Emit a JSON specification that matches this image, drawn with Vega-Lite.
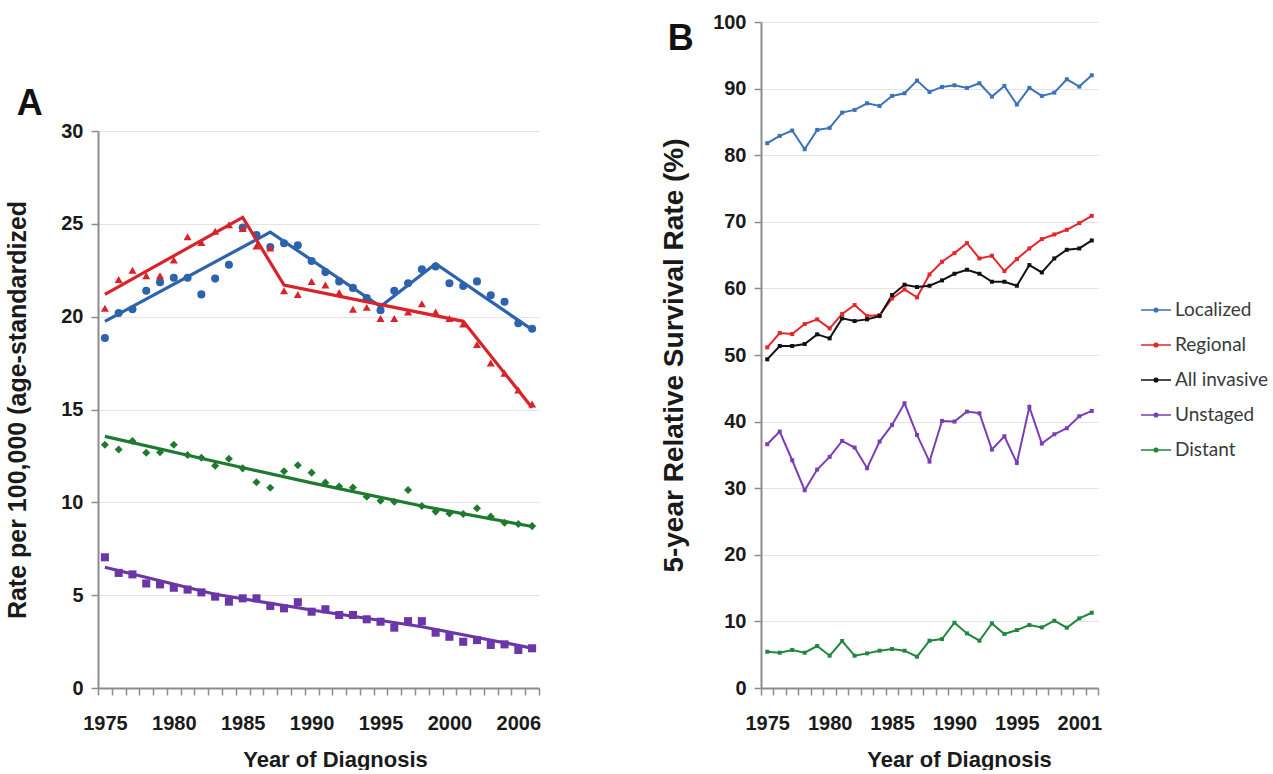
{
 "$schema": "https://vega.github.io/schema/vega-lite/v6.json",
 "background": "white",
 "padding": {"left": 5, "top": 12, "right": 0, "bottom": 0},
 "bounds": "flush",
 "spacing": 222,
 "config": {
  "view": {"stroke": null},
  "font": "Liberation Sans",
  "axis": {
   "labelFont": "Liberation Sans", "labelFontWeight": "bold", "labelFontSize": 20, "labelColor": "#1a1a1a",
   "titleFont": "Liberation Sans", "titleFontWeight": "bold", "titleFontSize": 22, "titleColor": "#1a1a1a",
   "domainColor": "#8c8c8c", "domainWidth": 2, "tickColor": "#8c8c8c", "tickWidth": 1.5, "tickSize": 7,
   "gridColor": "#e4e4e4", "gridWidth": 1.2
  },
  "title": {"font": "Liberation Sans", "fontWeight": "bold", "fontSize": 36, "color": "#111"}
 },
 "datasets": {
  "incid": [
   {"stage":"Localized","year":1975,"rate":18.85},{"stage":"Localized","year":1976,"rate":20.2},{"stage":"Localized","year":1977,"rate":20.4},{"stage":"Localized","year":1978,"rate":21.4},{"stage":"Localized","year":1979,"rate":21.85},{"stage":"Localized","year":1980,"rate":22.1},{"stage":"Localized","year":1981,"rate":22.1},{"stage":"Localized","year":1982,"rate":21.2},{"stage":"Localized","year":1983,"rate":22.05},{"stage":"Localized","year":1984,"rate":22.8},{"stage":"Localized","year":1985,"rate":24.8},{"stage":"Localized","year":1986,"rate":24.4},{"stage":"Localized","year":1987,"rate":23.75},{"stage":"Localized","year":1988,"rate":23.95},{"stage":"Localized","year":1989,"rate":23.85},{"stage":"Localized","year":1990,"rate":23.0},{"stage":"Localized","year":1991,"rate":22.4},{"stage":"Localized","year":1992,"rate":21.9},{"stage":"Localized","year":1993,"rate":21.55},{"stage":"Localized","year":1994,"rate":21.0},{"stage":"Localized","year":1995,"rate":20.35},{"stage":"Localized","year":1996,"rate":21.4},{"stage":"Localized","year":1997,"rate":21.8},{"stage":"Localized","year":1998,"rate":22.55},{"stage":"Localized","year":1999,"rate":22.7},{"stage":"Localized","year":2000,"rate":21.8},{"stage":"Localized","year":2001,"rate":21.65},{"stage":"Localized","year":2002,"rate":21.9},{"stage":"Localized","year":2003,"rate":21.15},{"stage":"Localized","year":2004,"rate":20.8},{"stage":"Localized","year":2005,"rate":19.65},{"stage":"Localized","year":2006,"rate":19.35},
   {"stage":"Regional","year":1975,"rate":20.45},{"stage":"Regional","year":1976,"rate":22.0},{"stage":"Regional","year":1977,"rate":22.5},{"stage":"Regional","year":1978,"rate":22.2},{"stage":"Regional","year":1979,"rate":22.2},{"stage":"Regional","year":1980,"rate":23.05},{"stage":"Regional","year":1981,"rate":24.3},{"stage":"Regional","year":1982,"rate":24.0},{"stage":"Regional","year":1983,"rate":24.6},{"stage":"Regional","year":1984,"rate":24.95},{"stage":"Regional","year":1985,"rate":24.75},{"stage":"Regional","year":1986,"rate":23.8},{"stage":"Regional","year":1987,"rate":23.7},{"stage":"Regional","year":1988,"rate":21.4},{"stage":"Regional","year":1989,"rate":21.2},{"stage":"Regional","year":1990,"rate":21.9},{"stage":"Regional","year":1991,"rate":21.7},{"stage":"Regional","year":1992,"rate":21.3},{"stage":"Regional","year":1993,"rate":20.4},{"stage":"Regional","year":1994,"rate":20.5},{"stage":"Regional","year":1995,"rate":19.9},{"stage":"Regional","year":1996,"rate":19.9},{"stage":"Regional","year":1997,"rate":20.25},{"stage":"Regional","year":1998,"rate":20.7},{"stage":"Regional","year":1999,"rate":20.25},{"stage":"Regional","year":2000,"rate":19.9},{"stage":"Regional","year":2001,"rate":19.6},{"stage":"Regional","year":2002,"rate":18.5},{"stage":"Regional","year":2003,"rate":17.5},{"stage":"Regional","year":2004,"rate":16.95},{"stage":"Regional","year":2005,"rate":16.05},{"stage":"Regional","year":2006,"rate":15.3},
   {"stage":"Distant","year":1975,"rate":13.1},{"stage":"Distant","year":1976,"rate":12.85},{"stage":"Distant","year":1977,"rate":13.3},{"stage":"Distant","year":1978,"rate":12.67},{"stage":"Distant","year":1979,"rate":12.7},{"stage":"Distant","year":1980,"rate":13.1},{"stage":"Distant","year":1981,"rate":12.55},{"stage":"Distant","year":1982,"rate":12.4},{"stage":"Distant","year":1983,"rate":11.97},{"stage":"Distant","year":1984,"rate":12.35},{"stage":"Distant","year":1985,"rate":11.83},{"stage":"Distant","year":1986,"rate":11.08},{"stage":"Distant","year":1987,"rate":10.79},{"stage":"Distant","year":1988,"rate":11.67},{"stage":"Distant","year":1989,"rate":12.0},{"stage":"Distant","year":1990,"rate":11.6},{"stage":"Distant","year":1991,"rate":11.06},{"stage":"Distant","year":1992,"rate":10.85},{"stage":"Distant","year":1993,"rate":10.8},{"stage":"Distant","year":1994,"rate":10.3},{"stage":"Distant","year":1995,"rate":10.09},{"stage":"Distant","year":1996,"rate":10.03},{"stage":"Distant","year":1997,"rate":10.66},{"stage":"Distant","year":1998,"rate":9.8},{"stage":"Distant","year":1999,"rate":9.5},{"stage":"Distant","year":2000,"rate":9.4},{"stage":"Distant","year":2001,"rate":9.37},{"stage":"Distant","year":2002,"rate":9.68},{"stage":"Distant","year":2003,"rate":9.23},{"stage":"Distant","year":2004,"rate":8.9},{"stage":"Distant","year":2005,"rate":8.83},{"stage":"Distant","year":2006,"rate":8.72},
   {"stage":"Unstaged","year":1975,"rate":7.04},{"stage":"Unstaged","year":1976,"rate":6.2},{"stage":"Unstaged","year":1977,"rate":6.12},{"stage":"Unstaged","year":1978,"rate":5.63},{"stage":"Unstaged","year":1979,"rate":5.58},{"stage":"Unstaged","year":1980,"rate":5.4},{"stage":"Unstaged","year":1981,"rate":5.3},{"stage":"Unstaged","year":1982,"rate":5.15},{"stage":"Unstaged","year":1983,"rate":4.92},{"stage":"Unstaged","year":1984,"rate":4.65},{"stage":"Unstaged","year":1985,"rate":4.83},{"stage":"Unstaged","year":1986,"rate":4.83},{"stage":"Unstaged","year":1987,"rate":4.42},{"stage":"Unstaged","year":1988,"rate":4.29},{"stage":"Unstaged","year":1989,"rate":4.62},{"stage":"Unstaged","year":1990,"rate":4.11},{"stage":"Unstaged","year":1991,"rate":4.24},{"stage":"Unstaged","year":1992,"rate":3.93},{"stage":"Unstaged","year":1993,"rate":3.93},{"stage":"Unstaged","year":1994,"rate":3.7},{"stage":"Unstaged","year":1995,"rate":3.57},{"stage":"Unstaged","year":1996,"rate":3.25},{"stage":"Unstaged","year":1997,"rate":3.6},{"stage":"Unstaged","year":1998,"rate":3.6},{"stage":"Unstaged","year":1999,"rate":2.98},{"stage":"Unstaged","year":2000,"rate":2.76},{"stage":"Unstaged","year":2001,"rate":2.49},{"stage":"Unstaged","year":2002,"rate":2.58},{"stage":"Unstaged","year":2003,"rate":2.32},{"stage":"Unstaged","year":2004,"rate":2.35},{"stage":"Unstaged","year":2005,"rate":2.05},{"stage":"Unstaged","year":2006,"rate":2.14}
  ],
  "trend": [
   {"stage":"Localized","year":1975,"rate":19.75},{"stage":"Localized","year":1987,"rate":24.55},{"stage":"Localized","year":1995,"rate":20.55},{"stage":"Localized","year":1999,"rate":22.85},{"stage":"Localized","year":2006,"rate":19.3},
   {"stage":"Regional","year":1975,"rate":21.2},{"stage":"Regional","year":1985,"rate":25.35},{"stage":"Regional","year":1988,"rate":21.7},{"stage":"Regional","year":2001,"rate":19.75},{"stage":"Regional","year":2006,"rate":15.1},
   {"stage":"Distant","year":1975,"rate":13.55},{"stage":"Distant","year":1983,"rate":12.2},{"stage":"Distant","year":1990,"rate":11.05},{"stage":"Distant","year":1998,"rate":9.8},{"stage":"Distant","year":2006,"rate":8.7},
   {"stage":"Unstaged","year":1975,"rate":6.5},{"stage":"Unstaged","year":1983,"rate":5.05},{"stage":"Unstaged","year":1990,"rate":4.2},{"stage":"Unstaged","year":1998,"rate":3.3},{"stage":"Unstaged","year":2006,"rate":2.15}
  ],
  "surv": [
   {"stage":"Localized","year":1975,"surv":81.8},{"stage":"Localized","year":1976,"surv":82.9},{"stage":"Localized","year":1977,"surv":83.7},{"stage":"Localized","year":1978,"surv":80.9},{"stage":"Localized","year":1979,"surv":83.8},{"stage":"Localized","year":1980,"surv":84.1},{"stage":"Localized","year":1981,"surv":86.4},{"stage":"Localized","year":1982,"surv":86.8},{"stage":"Localized","year":1983,"surv":87.8},{"stage":"Localized","year":1984,"surv":87.4},{"stage":"Localized","year":1985,"surv":88.9},{"stage":"Localized","year":1986,"surv":89.3},{"stage":"Localized","year":1987,"surv":91.2},{"stage":"Localized","year":1988,"surv":89.5},{"stage":"Localized","year":1989,"surv":90.25},{"stage":"Localized","year":1990,"surv":90.5},{"stage":"Localized","year":1991,"surv":90.1},{"stage":"Localized","year":1992,"surv":90.8},{"stage":"Localized","year":1993,"surv":88.8},{"stage":"Localized","year":1994,"surv":90.4},{"stage":"Localized","year":1995,"surv":87.6},{"stage":"Localized","year":1996,"surv":90.1},{"stage":"Localized","year":1997,"surv":88.9},{"stage":"Localized","year":1998,"surv":89.4},{"stage":"Localized","year":1999,"surv":91.4},{"stage":"Localized","year":2000,"surv":90.3},{"stage":"Localized","year":2001,"surv":92.0},
   {"stage":"Regional","year":1975,"surv":51.15},{"stage":"Regional","year":1976,"surv":53.3},{"stage":"Regional","year":1977,"surv":53.15},{"stage":"Regional","year":1978,"surv":54.65},{"stage":"Regional","year":1979,"surv":55.35},{"stage":"Regional","year":1980,"surv":54.0},{"stage":"Regional","year":1981,"surv":56.15},{"stage":"Regional","year":1982,"surv":57.5},{"stage":"Regional","year":1983,"surv":55.85},{"stage":"Regional","year":1984,"surv":56.0},{"stage":"Regional","year":1985,"surv":58.5},{"stage":"Regional","year":1986,"surv":59.85},{"stage":"Regional","year":1987,"surv":58.65},{"stage":"Regional","year":1988,"surv":62.1},{"stage":"Regional","year":1989,"surv":64.0},{"stage":"Regional","year":1990,"surv":65.3},{"stage":"Regional","year":1991,"surv":66.8},{"stage":"Regional","year":1992,"surv":64.5},{"stage":"Regional","year":1993,"surv":64.9},{"stage":"Regional","year":1994,"surv":62.6},{"stage":"Regional","year":1995,"surv":64.4},{"stage":"Regional","year":1996,"surv":66.0},{"stage":"Regional","year":1997,"surv":67.4},{"stage":"Regional","year":1998,"surv":68.1},{"stage":"Regional","year":1999,"surv":68.8},{"stage":"Regional","year":2000,"surv":69.8},{"stage":"Regional","year":2001,"surv":70.9},
   {"stage":"All invasive","year":1975,"surv":49.35},{"stage":"All invasive","year":1976,"surv":51.35},{"stage":"All invasive","year":1977,"surv":51.35},{"stage":"All invasive","year":1978,"surv":51.65},{"stage":"All invasive","year":1979,"surv":53.1},{"stage":"All invasive","year":1980,"surv":52.5},{"stage":"All invasive","year":1981,"surv":55.5},{"stage":"All invasive","year":1982,"surv":55.1},{"stage":"All invasive","year":1983,"surv":55.35},{"stage":"All invasive","year":1984,"surv":55.85},{"stage":"All invasive","year":1985,"surv":59.0},{"stage":"All invasive","year":1986,"surv":60.55},{"stage":"All invasive","year":1987,"surv":60.2},{"stage":"All invasive","year":1988,"surv":60.4},{"stage":"All invasive","year":1989,"surv":61.2},{"stage":"All invasive","year":1990,"surv":62.2},{"stage":"All invasive","year":1991,"surv":62.8},{"stage":"All invasive","year":1992,"surv":62.2},{"stage":"All invasive","year":1993,"surv":61.0},{"stage":"All invasive","year":1994,"surv":61.0},{"stage":"All invasive","year":1995,"surv":60.4},{"stage":"All invasive","year":1996,"surv":63.5},{"stage":"All invasive","year":1997,"surv":62.4},{"stage":"All invasive","year":1998,"surv":64.5},{"stage":"All invasive","year":1999,"surv":65.8},{"stage":"All invasive","year":2000,"surv":66.0},{"stage":"All invasive","year":2001,"surv":67.2},
   {"stage":"Unstaged","year":1975,"surv":36.6},{"stage":"Unstaged","year":1976,"surv":38.5},{"stage":"Unstaged","year":1977,"surv":34.2},{"stage":"Unstaged","year":1978,"surv":29.7},{"stage":"Unstaged","year":1979,"surv":32.8},{"stage":"Unstaged","year":1980,"surv":34.7},{"stage":"Unstaged","year":1981,"surv":37.1},{"stage":"Unstaged","year":1982,"surv":36.1},{"stage":"Unstaged","year":1983,"surv":33.0},{"stage":"Unstaged","year":1984,"surv":37.0},{"stage":"Unstaged","year":1985,"surv":39.5},{"stage":"Unstaged","year":1986,"surv":42.75},{"stage":"Unstaged","year":1987,"surv":38.0},{"stage":"Unstaged","year":1988,"surv":34.0},{"stage":"Unstaged","year":1989,"surv":40.1},{"stage":"Unstaged","year":1990,"surv":40.0},{"stage":"Unstaged","year":1991,"surv":41.5},{"stage":"Unstaged","year":1992,"surv":41.25},{"stage":"Unstaged","year":1993,"surv":35.8},{"stage":"Unstaged","year":1994,"surv":37.8},{"stage":"Unstaged","year":1995,"surv":33.8},{"stage":"Unstaged","year":1996,"surv":42.2},{"stage":"Unstaged","year":1997,"surv":36.7},{"stage":"Unstaged","year":1998,"surv":38.1},{"stage":"Unstaged","year":1999,"surv":39.0},{"stage":"Unstaged","year":2000,"surv":40.8},{"stage":"Unstaged","year":2001,"surv":41.6},
   {"stage":"Distant","year":1975,"surv":5.45},{"stage":"Distant","year":1976,"surv":5.3},{"stage":"Distant","year":1977,"surv":5.7},{"stage":"Distant","year":1978,"surv":5.3},{"stage":"Distant","year":1979,"surv":6.3},{"stage":"Distant","year":1980,"surv":4.85},{"stage":"Distant","year":1981,"surv":7.05},{"stage":"Distant","year":1982,"surv":4.85},{"stage":"Distant","year":1983,"surv":5.2},{"stage":"Distant","year":1984,"surv":5.6},{"stage":"Distant","year":1985,"surv":5.85},{"stage":"Distant","year":1986,"surv":5.6},{"stage":"Distant","year":1987,"surv":4.7},{"stage":"Distant","year":1988,"surv":7.1},{"stage":"Distant","year":1989,"surv":7.35},{"stage":"Distant","year":1990,"surv":9.8},{"stage":"Distant","year":1991,"surv":8.2},{"stage":"Distant","year":1992,"surv":7.1},{"stage":"Distant","year":1993,"surv":9.7},{"stage":"Distant","year":1994,"surv":8.1},{"stage":"Distant","year":1995,"surv":8.7},{"stage":"Distant","year":1996,"surv":9.45},{"stage":"Distant","year":1997,"surv":9.1},{"stage":"Distant","year":1998,"surv":10.1},{"stage":"Distant","year":1999,"surv":9.05},{"stage":"Distant","year":2000,"surv":10.45},{"stage":"Distant","year":2001,"surv":11.3}
  ]
 },
 "resolve": {"scale": {"x": "independent", "y": "independent", "color": "independent", "shape": "independent"}, "legend": {"color": "independent", "shape": "independent"}},
 "hconcat": [
  {
   "width": 441, "height": 666,
   "title": {"text": "A", "anchor": "start", "frame": "bounds", "orient": "top", "baseline": "alphabetic", "offset": -129, "dx": 11},
   "encoding": {
    "x": {"field": "year", "type": "quantitative", "scale": {"domain": [1974.5, 2006.5], "nice": false, "zero": false},
     "axis": {"title": "Year of Diagnosis", "grid": false, "titleX": 237,
      "values": [1974.5,1975.5,1976.5,1977.5,1978.5,1979.5,1980.5,1981.5,1982.5,1983.5,1984.5,1985.5,1986.5,1987.5,1988.5,1989.5,1990.5,1991.5,1992.5,1993.5,1994.5,1995.5,1996.5,1997.5,1998.5,1999.5,2000.5,2001.5,2002.5,2003.5,2004.5,2005.5,2006.5],
      "labelExpr": "datum.value == 2004.5 ? '2006' : (indexof([1975,1980,1985,1990,1995,2000], datum.value + 0.5) >= 0 ? '' + (datum.value + 0.5) : '')",
      "labelOffset": 6.9, "labelOverlap": false, "labelFlush": false, "labelPadding": 18, "titlePadding": 16}},
    "y": {"field": "rate", "type": "quantitative", "scale": {"domain": [0, 30], "range": [666, 109], "nice": false, "zero": true},
     "axis": {"title": "Rate per 100,000 (age-standardized", "values": [0, 5, 10, 15, 20, 25, 30], "grid": true, "labelPadding": 8, "titlePadding": 30, "titleFontSize": 25}},
    "color": {"field": "stage", "type": "nominal", "legend": null,
     "scale": {"domain": ["Localized", "Regional", "Distant", "Unstaged"], "range": ["#2d63ad", "#d8232a", "#1f7a30", "#6a36a8"]}}
   },
   "layer": [
    {"data": {"name": "incid"}, "mark": {"type": "point", "filled": true, "opacity": 1, "size": 65},
     "encoding": {"shape": {"field": "stage", "type": "nominal", "legend": null,
      "scale": {"domain": ["Localized", "Regional", "Distant", "Unstaged"], "range": ["circle", "triangle-up", "diamond", "square"]}}}},
    {"data": {"name": "trend"}, "mark": {"type": "line", "strokeWidth": 3.2}}
   ]
  },
  {
   "width": 337, "height": 666,
   "title": {"text": "B", "anchor": "start", "frame": "bounds", "orient": "top", "baseline": "alphabetic", "offset": -74, "dx": 7},
   "data": {"name": "surv"},
   "encoding": {
    "x": {"field": "year", "type": "quantitative", "scale": {"domain": [1974.5, 2001.5], "nice": false, "zero": false},
     "axis": {"title": "Year of Diagnosis", "grid": false, "titleX": 198,
      "values": [1974.5,1975.5,1976.5,1977.5,1978.5,1979.5,1980.5,1981.5,1982.5,1983.5,1984.5,1985.5,1986.5,1987.5,1988.5,1989.5,1990.5,1991.5,1992.5,1993.5,1994.5,1995.5,1996.5,1997.5,1998.5,1999.5,2000.5,2001.5],
      "labelExpr": "datum.value == 1999.5 ? '2001' : (indexof([1975,1980,1985,1990,1995], datum.value + 0.5) >= 0 ? '' + (datum.value + 0.5) : '')",
      "labelOffset": 6.24, "labelOverlap": false, "labelFlush": false, "labelPadding": 18, "titlePadding": 16}},
    "y": {"field": "surv", "type": "quantitative", "scale": {"domain": [0, 100], "nice": false},
     "axis": {"title": "5-year Relative Survival Rate (%)", "values": [0,10,20,30,40,50,60,70,80,90,100], "grid": true, "labelPadding": 8, "titlePadding": 24, "titleFontSize": 28}},
    "color": {"field": "stage", "type": "nominal",
     "scale": {"domain": ["Localized", "Regional", "All invasive", "Unstaged", "Distant"], "range": ["#3c72b8", "#e5262b", "#111111", "#7a3fb4", "#22873e"]},
     "legend": {"title": null, "orient": "none", "legendX": 379, "legendY": 272, "padding": 0,
      "symbolType": "M-1,0H1M-0.12,0A0.12,0.12,0,1,0,0.12,0A0.12,0.12,0,1,0,-0.12,0",
      "symbolSize": 900, "symbolStrokeWidth": 1.5, "labelFont": "Lato", "labelFontSize": 19, "labelColor": "#3a3a3a", "rowPadding": 9, "labelOffset": 3}}
   },
   "layer": [
    {"mark": {"type": "line", "strokeWidth": 2}},
    {"mark": {"type": "point", "filled": true, "opacity": 1, "size": 16, "shape": "square"}}
   ]
  }
 ]
}
